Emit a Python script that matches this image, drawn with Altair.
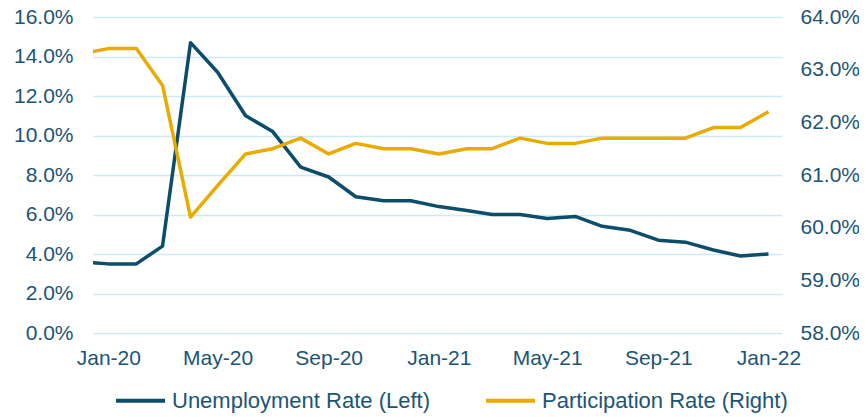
import altair as alt
import pandas as pd

months = [d.strftime("%Y-%m-%d") for d in pd.date_range("2019-12-01", periods=26, freq="MS")]
unemployment = [3.6, 3.5, 3.5, 4.4, 14.7, 13.2, 11.0, 10.2, 8.4, 7.9, 6.9, 6.7, 6.7,
                6.4, 6.2, 6.0, 6.0, 5.8, 5.9, 5.4, 5.2, 4.7, 4.6, 4.2, 3.9, 4.0]
participation = [63.3, 63.4, 63.4, 62.7, 60.2, 60.8, 61.4, 61.5, 61.7, 61.4, 61.6, 61.5, 61.5,
                 61.4, 61.5, 61.5, 61.7, 61.6, 61.6, 61.7, 61.7, 61.7, 61.7, 61.9, 61.9, 62.2]
series_names = ["Unemployment Rate (Left)", "Participation Rate (Right)"]
series_colors = ["#0B4D6A", "#EAAB00"]
left_ticks = [0, 2, 4, 6, 8, 10, 12, 14, 16]
right_ticks = [58, 59, 60, 61, 62, 63, 64]

df = pd.DataFrame({
    "date": months * 2,
    "value": unemployment + participation,
    "series": [series_names[0]] * len(months) + [series_names[1]] * len(months),
})

TEXT = "#1B5574"
FONT = "Liberation Sans"

x_enc = alt.X(
    "date:T",
    title=None,
    scale=alt.Scale(type="utc",
                    domain=[alt.DateTime(year=2019, month=12, date=15, utc=True),
                            alt.DateTime(year=2022, month=1, date=16, utc=True)]),
    axis=alt.Axis(
        values=[alt.DateTime(year=y, month=m, date=1, utc=True)
                for (y, m) in [(2020, 1), (2020, 5), (2020, 9), (2021, 1), (2021, 5), (2021, 9), (2022, 1)]],
        format="%b-%y", grid=False, ticks=False, tickSize=0, domain=False,
        labelPadding=14, labelFontSize=21, labelFont=FONT, labelColor=TEXT,
    ),
)

color_enc = alt.Color(
    "series:N",
    scale=alt.Scale(domain=series_names, range=series_colors),
    legend=alt.Legend(
        orient="none", legendX=21, legendY=357, direction="horizontal", title=None,
        symbolType="stroke", symbolSize=2401, symbolStrokeWidth=4,
        labelFontSize=22, labelFont=FONT, labelColor=TEXT, labelOffset=5,
        columnPadding=48, padding=0, labelLimit=500,
    ),
)

base = alt.Chart(df).encode(x=x_enc, color=color_enc)

left = base.transform_filter(alt.datum.series == series_names[0]).mark_line(
    strokeWidth=3.5, clip=True, strokeJoin="round"
).encode(
    y=alt.Y("value:Q", title=None, scale=alt.Scale(domain=[0, 16], nice=False, zero=False),
            axis=alt.Axis(orient="left", values=left_ticks, grid=True, gridColor="#CCEAF8",
                          gridWidth=1.5, ticks=False, domain=False, labelPadding=20,
                          labelExpr="format(datum.value, '.1f') + '%'",
                          labelFontSize=21, labelFont=FONT, labelColor=TEXT))
)

right = base.transform_filter(alt.datum.series == series_names[1]).mark_line(
    strokeWidth=3.5, clip=True, strokeJoin="round"
).encode(
    y=alt.Y("value:Q", title=None, scale=alt.Scale(domain=[58, 64], nice=False, zero=False),
            axis=alt.Axis(orient="right", values=right_ticks, grid=False, ticks=False,
                          domain=False, labelPadding=18,
                          labelExpr="format(datum.value, '.1f') + '%'",
                          labelFontSize=21, labelFont=FONT, labelColor=TEXT))
)

chart = alt.layer(left, right).resolve_scale(y="independent", color="shared").properties(
    width=689, height=316,
    autosize=alt.AutoSizeParams(type="none"),
    padding={"left": 85, "top": 9, "right": 77, "bottom": 80},
    background="white",
).configure_view(stroke=None)

chart.save("out.html", embed_options={"renderer": "svg", "actions": False})
